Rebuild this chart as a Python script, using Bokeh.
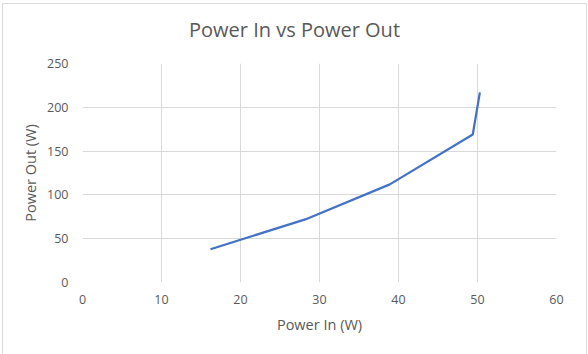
from bokeh.plotting import figure
from bokeh.models import Range1d, FixedTicker, Div
from bokeh.layouts import column
from bokeh.embed import file_html
from bokeh.resources import INLINE

power_in = [16.2, 28.2, 38.9, 49.4, 50.3]
power_out = [38, 72, 112, 169, 217]
x_ticks = [0, 10, 20, 30, 40, 50, 60]
y_ticks = [0, 50, 100, 150, 200, 250]
title_text = "Power In vs Power Out"

FONT = "Open Sans"
TXT = "#595959"
GRID = "#d9d9d9"

title = Div(text=title_text, width=583, height=52, margin=(0, 0, 0, 0),
            styles={"font-family": FONT, "font-size": "20px", "color": TXT,
                    "text-align": "center", "line-height": "52px"})

p = figure(width=583, height=298, output_backend="svg", toolbar_location=None,
           x_range=Range1d(0, 60), y_range=Range1d(0, 250),
           min_border_left=79, min_border_right=30, min_border_top=7, min_border_bottom=72)
p.outline_line_color = None

p.line(power_in, power_out, line_color="#4472c4", line_width=2.25)

for ax, ticks, label in ((p.xaxis[0], x_ticks, "Power In (W)"), (p.yaxis[0], y_ticks, "Power Out (W)")):
    ax.ticker = FixedTicker(ticks=ticks)
    ax.axis_label = label
    ax.axis_label_text_font = FONT
    ax.axis_label_text_font_size = "14.5px"
    ax.axis_label_text_font_style = "normal"
    ax.axis_label_text_color = TXT
    ax.major_label_text_font = FONT
    ax.major_label_text_font_size = "12.5px"
    ax.major_label_text_color = TXT
    ax.axis_line_color = None
    ax.major_tick_line_color = None
    ax.minor_tick_line_color = None
    ax.major_tick_out = 0
    ax.major_tick_in = 0

p.xaxis.major_label_standoff = 12
p.yaxis.major_label_standoff = 14
p.xaxis.axis_label_standoff = 8
p.yaxis.axis_label_standoff = 4

p.xgrid.ticker = FixedTicker(ticks=x_ticks)
p.ygrid.ticker = FixedTicker(ticks=y_ticks)
p.grid.grid_line_color = GRID
p.grid.grid_line_width = 1

layout = column(title, p, spacing=0,
                styles={"border-left": "1px solid #d9d9d9", "border-top": "1px solid #d9d9d9",
                        "border-right": "1px solid #d9d9d9", "margin-left": "2px",
                        "margin-top": "3px", "background-color": "white"})

open("out.html", "w").write(file_html(layout, INLINE))
